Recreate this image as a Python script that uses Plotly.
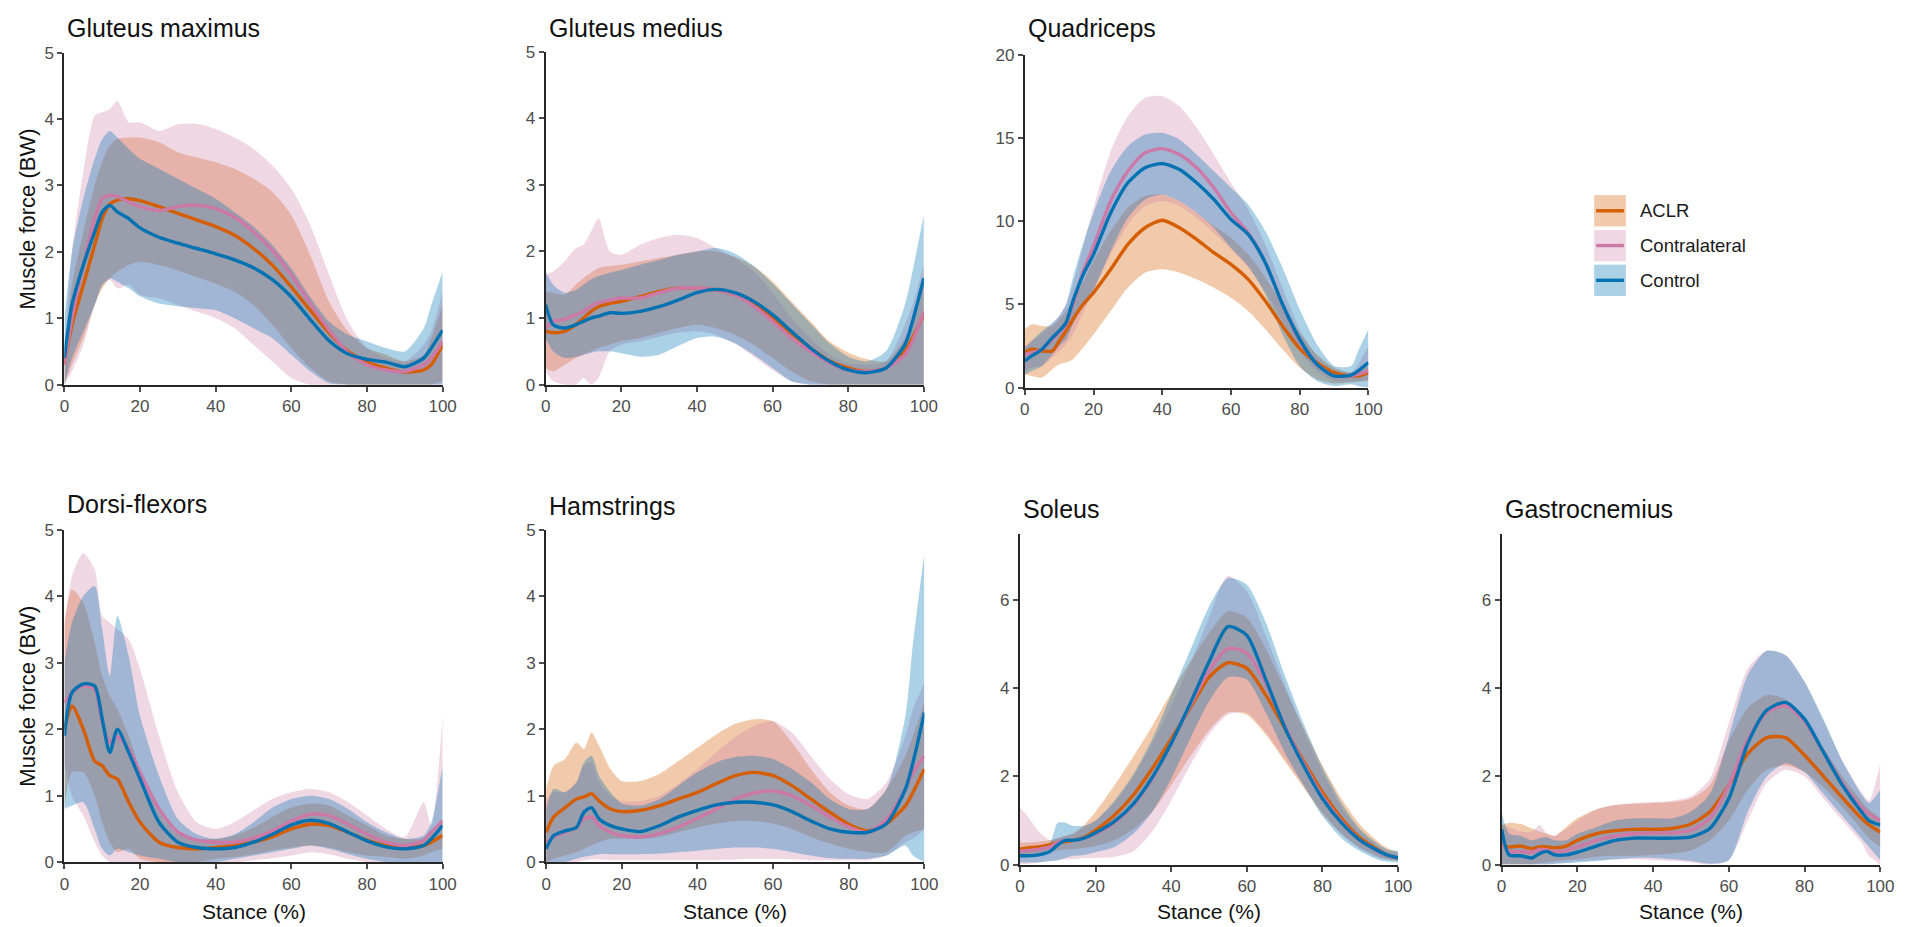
import plotly.graph_objects as go

# Stance phase sample points (%)
X = [0, 2, 5, 8, 10, 12, 14, 17, 20, 25, 30, 35, 40, 45, 50, 55, 60, 65, 70, 75, 80, 85, 90, 95, 97, 100]

GROUPS = ["ACLR", "Contralateral", "Control"]

# ---------------- Gluteus maximus ----------------
GMAX_ACLR = [0.3, 0.9, 1.5, 2.1, 2.5, 2.72, 2.78, 2.8, 2.77, 2.68, 2.58, 2.48, 2.38, 2.25, 2.05, 1.8, 1.47, 1.12, 0.78, 0.5, 0.34, 0.25, 0.19, 0.22, 0.3, 0.6]
GMAX_ACLR_LO = [0.0, 0.3, 0.7, 1.2, 1.45, 1.6, 1.7, 1.8, 1.85, 1.8, 1.72, 1.62, 1.52, 1.4, 1.2, 0.9, 0.55, 0.25, 0.05, 0, 0, 0, 0, 0, 0, 0.05]
GMAX_ACLR_HI = [0.5, 1.5, 2.3, 3.0, 3.35, 3.6, 3.7, 3.72, 3.72, 3.65, 3.5, 3.42, 3.35, 3.25, 3.1, 2.9, 2.55, 1.95, 1.25, 0.8, 0.55, 0.45, 0.35, 0.45, 0.7, 1.2]
GMAX_CONTRA = [0.3, 1.0, 1.8, 2.5, 2.8, 2.85, 2.83, 2.75, 2.68, 2.62, 2.68, 2.7, 2.65, 2.52, 2.3, 2.02, 1.65, 1.22, 0.82, 0.48, 0.3, 0.22, 0.2, 0.3, 0.4, 0.65]
GMAX_CONTRA_LO = [0, 0.2, 0.6, 1.2, 1.5, 1.58, 1.45, 1.5, 1.35, 1.3, 1.2, 1.1, 1.0, 0.85, 0.6, 0.35, 0.1, 0, 0, 0, 0, 0, 0, 0, 0, 0]
GMAX_CONTRA_HI = [0.5, 2.0, 3.2, 4.05, 4.1, 4.15, 4.27, 3.95, 3.95, 3.82, 3.92, 3.93, 3.85, 3.72, 3.55, 3.3, 2.95, 2.4, 1.65, 0.95, 0.55, 0.4, 0.35, 0.6, 0.8, 1.4]
GMAX_CTRL = [0.4, 1.2, 1.8, 2.3, 2.6, 2.7, 2.6, 2.5, 2.36, 2.22, 2.13, 2.05, 1.97, 1.88, 1.76, 1.58, 1.32, 0.98, 0.66, 0.46, 0.38, 0.34, 0.27, 0.4, 0.55, 0.82]
GMAX_CTRL_LO = [0, 0.4, 0.8, 1.2, 1.5, 1.6, 1.55, 1.45, 1.33, 1.22, 1.18, 1.15, 1.12, 1.0, 0.85, 0.7, 0.45, 0.2, 0.02, 0, 0, 0, 0, 0, 0, 0]
GMAX_CTRL_HI = [1.0, 2.0, 2.8, 3.4, 3.7, 3.82, 3.72, 3.55, 3.4, 3.25, 3.1, 2.95, 2.8, 2.6, 2.38, 2.1, 1.75, 1.32, 0.95, 0.75, 0.65, 0.55, 0.5, 0.85, 1.2, 1.7]

# ---------------- Gluteus medius ----------------
GMED_ACLR = [0.8, 0.78, 0.8, 0.9, 1.0, 1.1, 1.17, 1.22, 1.25, 1.32, 1.4, 1.45, 1.45, 1.42, 1.35, 1.2, 1.0, 0.77, 0.55, 0.36, 0.25, 0.2, 0.25, 0.5, 0.7, 1.05]
GMED_ACLR_LO = [0.25, 0.2, 0.3, 0.4, 0.45, 0.5, 0.55, 0.6, 0.65, 0.7, 0.78, 0.85, 0.9, 0.85, 0.75, 0.6, 0.4, 0.2, 0.05, 0, 0, 0, 0, 0, 0, 0]
GMED_ACLR_HI = [1.4, 1.38, 1.35, 1.5, 1.6, 1.68, 1.75, 1.78, 1.8, 1.85, 1.9, 1.95, 2.0, 2.0, 1.92, 1.78, 1.55, 1.25, 0.95, 0.65, 0.48, 0.38, 0.35, 0.7, 1.0, 1.6]
GMED_CONTRA = [0.85, 0.95, 0.98, 1.05, 1.1, 1.18, 1.23, 1.27, 1.3, 1.3, 1.38, 1.45, 1.45, 1.42, 1.35, 1.18, 0.95, 0.7, 0.5, 0.33, 0.22, 0.2, 0.25, 0.45, 0.65, 1.1]
GMED_CONTRA_LO = [0.2, 0.05, 0, 0, 0.1, 0, 0.1, 0.5, 0.6, 0.65, 0.72, 0.78, 0.8, 0.75, 0.62, 0.42, 0.22, 0.05, 0, 0, 0, 0, 0, 0, 0, 0]
GMED_CONTRA_HI = [1.65, 1.7, 1.85, 2.05, 2.1, 2.3, 2.5, 2.0, 1.95, 2.1, 2.2, 2.25, 2.2, 2.05, 1.9, 1.7, 1.38, 1.0, 0.7, 0.45, 0.32, 0.3, 0.35, 0.9, 1.2, 1.8]
GMED_CTRL = [1.2, 0.9, 0.85, 0.9, 0.95, 1.0, 1.03, 1.08, 1.07, 1.1, 1.17, 1.27, 1.38, 1.43, 1.38, 1.25, 1.05, 0.8, 0.55, 0.35, 0.22, 0.18, 0.25, 0.6, 0.95, 1.6]
GMED_CTRL_LO = [0.7, 0.5, 0.4, 0.42, 0.45, 0.48, 0.5, 0.5, 0.47, 0.42, 0.45, 0.58, 0.7, 0.72, 0.62, 0.45, 0.25, 0.05, 0, 0, 0, 0, 0, 0, 0, 0]
GMED_CTRL_HI = [1.7, 1.5, 1.38, 1.42, 1.5, 1.58, 1.63, 1.68, 1.72, 1.8, 1.87, 1.95, 2.0, 2.05, 1.97, 1.78, 1.52, 1.22, 0.92, 0.62, 0.42, 0.35, 0.5, 1.2, 1.7, 2.55]

# ---------------- Quadriceps ----------------
QUAD_ACLR = [2.1, 2.3, 2.2, 2.2, 2.8, 3.4, 4.1, 5.0, 5.7, 7.1, 8.6, 9.6, 10.05, 9.6, 8.9, 8.1, 7.4, 6.5, 5.2, 3.7, 2.35, 1.5, 0.9, 0.7, 0.7, 0.9]
QUAD_ACLR_LO = [0.8, 0.7, 0.6, 1.1, 1.4, 1.5, 1.7, 2.4, 3.2, 4.6, 6.0, 6.9, 7.1, 6.9, 6.5, 6.0, 5.4, 4.6, 3.5, 2.3, 1.2, 0.5, 0.25, 0.3, 0.35, 0.4]
QUAD_ACLR_HI = [3.5, 3.8, 3.7, 3.7, 4.1, 4.6, 5.2, 6.4, 7.6, 9.4, 10.8, 11.5, 11.6, 11.2, 10.5, 9.7, 9.0, 8.0, 6.6, 5.0, 3.3, 2.0, 1.2, 0.9, 1.0, 1.3]
QUAD_CONTRA = [2.0, 2.1, 2.3, 2.9, 3.3, 3.8, 5.0, 7.0, 8.5, 11.2, 13.0, 14.1, 14.35, 14.0, 13.2, 12.0, 10.5, 9.3, 7.5, 5.0, 2.8, 1.4, 0.7, 0.7, 0.8, 1.0]
QUAD_CONTRA_LO = [1.0, 1.2, 1.3, 1.8, 2.2, 2.6, 3.2, 4.5, 5.8, 8.0, 9.8, 10.9, 11.2, 10.9, 10.2, 9.3, 8.3, 7.2, 5.8, 4.0, 2.2, 1.0, 0.4, 0.4, 0.4, 0.5]
QUAD_CONTRA_HI = [2.5, 2.8, 3.2, 3.8, 4.3, 5.0, 6.2, 8.5, 10.8, 14.2, 16.3, 17.4, 17.5, 16.9, 15.6, 14.0, 12.3, 10.7, 8.6, 6.0, 3.5, 1.9, 1.1, 0.9, 1.4, 2.5]
QUAD_CTRL = [1.6, 1.9, 2.3, 3.0, 3.4, 3.9, 5.2, 6.8, 8.0, 10.5, 12.3, 13.2, 13.45, 13.1, 12.3, 11.3, 10.1, 9.2, 7.5, 5.0, 2.9, 1.4, 0.7, 0.75, 1.0, 1.5]
QUAD_CTRL_LO = [0.8, 1.0, 1.3, 2.0, 2.5, 2.9, 3.8, 5.0, 5.9, 8.2, 10.2, 11.3, 11.6, 11.2, 10.5, 9.6, 8.4, 7.3, 5.6, 3.2, 1.3, 0.4, 0.1, 0.2, 0.1, 0]
QUAD_CTRL_HI = [2.4, 2.8, 3.4, 3.9, 4.3, 5.0, 6.6, 8.7, 10.5, 13.0, 14.5, 15.2, 15.3, 14.9, 14.0, 13.0, 12.0, 11.0, 9.4, 7.2, 4.7, 2.6, 1.3, 1.3, 2.2, 3.5]

# ---------------- Dorsi-flexors ----------------
DORS_ACLR = [2.0, 2.35, 2.0, 1.52, 1.45, 1.3, 1.25, 0.9, 0.6, 0.3, 0.22, 0.2, 0.22, 0.25, 0.3, 0.38, 0.5, 0.57, 0.55, 0.45, 0.33, 0.25, 0.22, 0.25, 0.3, 0.4]
DORS_ACLR_LO = [0.8, 1.35, 1.35, 1.0, 0.6, 0.3, 0.15, 0.2, 0.05, 0, 0, 0, 0.05, 0.08, 0.12, 0.18, 0.22, 0.25, 0.22, 0.15, 0.1, 0.08, 0.05, 0.1, 0.15, 0.2]
DORS_ACLR_HI = [3.6, 4.1, 3.9, 3.3, 2.8, 2.5, 2.3, 1.9, 1.4, 0.75, 0.42, 0.35, 0.35, 0.4, 0.52, 0.68, 0.82, 0.88, 0.85, 0.7, 0.55, 0.4, 0.35, 0.35, 0.45, 0.6]
DORS_CONTRA = [2.4, 2.55, 2.65, 2.6, 2.1, 1.8, 1.88, 1.7, 1.35, 0.8, 0.45, 0.33, 0.3, 0.3, 0.36, 0.47, 0.62, 0.72, 0.7, 0.57, 0.42, 0.3, 0.25, 0.33, 0.45, 0.62]
DORS_CONTRA_LO = [1.5, 1.0, 0.7, 0.3, 0.1, 0, 0, 0, 0, 0, 0, 0, 0, 0, 0.03, 0.06, 0.1, 0.15, 0.12, 0.05, 0, 0, 0, 0, 0, 0]
DORS_CONTRA_HI = [3.5, 4.3, 4.65, 4.4, 3.7, 3.6, 3.5, 3.35, 2.9, 1.9, 1.05, 0.6, 0.5, 0.6, 0.78, 0.95, 1.05, 1.1, 1.05, 0.9, 0.7, 0.5, 0.38, 0.9, 0.55, 2.2]
DORS_CTRL = [1.9, 2.55, 2.68, 2.65, 2.15, 1.65, 2.0, 1.65, 1.25, 0.6, 0.3, 0.22, 0.2, 0.22, 0.3, 0.42, 0.56, 0.63, 0.58, 0.45, 0.32, 0.23, 0.2, 0.25, 0.35, 0.55]
DORS_CTRL_LO = [0.8, 0.85, 0.9, 0.5, 0.2, 0.1, 0.2, 0.15, 0.1, 0.05, 0, 0, 0, 0.05, 0.1, 0.15, 0.2, 0.25, 0.2, 0.12, 0.05, 0, 0, 0, 0, 0]
DORS_CTRL_HI = [3.0, 3.6, 4.0, 4.15, 3.5, 2.8, 3.7, 3.1, 2.2, 1.3, 0.65, 0.42, 0.35, 0.42, 0.6, 0.82, 0.95, 1.0, 0.95, 0.8, 0.6, 0.45, 0.35, 0.4, 0.6, 1.45]

# ---------------- Hamstrings ----------------
HAMS_ACLR = [0.45, 0.68, 0.82, 0.95, 0.98, 1.03, 0.92, 0.8, 0.76, 0.78, 0.85, 0.95, 1.05, 1.18, 1.3, 1.35, 1.3, 1.15, 0.95, 0.75, 0.57, 0.47, 0.58, 0.85, 1.05, 1.4]
HAMS_ACLR_LO = [0, 0.05, 0.1, 0.15, 0.2, 0.25, 0.3, 0.35, 0.35, 0.35, 0.38, 0.45, 0.52, 0.58, 0.62, 0.62, 0.58, 0.5, 0.38, 0.28, 0.2, 0.15, 0.15, 0.4, 0.45, 0.5]
HAMS_ACLR_HI = [1.1, 1.45, 1.55, 1.8, 1.7, 1.95, 1.75, 1.4, 1.22, 1.22, 1.33, 1.52, 1.72, 1.92, 2.08, 2.15, 2.12, 1.8, 1.4, 1.05, 0.85, 0.8, 1.1, 1.6, 1.9, 2.4]
HAMS_CONTRA = [0.3, 0.38, 0.45, 0.52, 0.65, 0.68, 0.55, 0.45, 0.4, 0.38, 0.43, 0.53, 0.66, 0.8, 0.95, 1.04, 1.07, 1.0, 0.85, 0.68, 0.53, 0.45, 0.65, 1.1, 1.35, 1.6]
HAMS_CONTRA_LO = [0, 0, 0, 0, 0.03, 0.04, 0.04, 0.03, 0.03, 0.03, 0.03, 0.03, 0.03, 0.03, 0.04, 0.05, 0.05, 0.04, 0.03, 0.03, 0.03, 0.03, 0.1, 0.3, 0.35, 0.5]
HAMS_CONTRA_HI = [0.95, 1.05, 1.05, 1.2, 1.45, 1.5, 1.2, 1.0, 0.92, 0.92, 1.0, 1.18, 1.4, 1.65, 1.88, 2.05, 2.12, 1.95, 1.6, 1.25, 1.02, 0.95, 1.2, 1.9, 2.3, 2.7]
HAMS_CTRL = [0.2, 0.4, 0.47, 0.52, 0.75, 0.82, 0.65, 0.55, 0.5, 0.46, 0.55, 0.68, 0.78, 0.86, 0.9, 0.9, 0.86, 0.76, 0.62, 0.5, 0.45, 0.45, 0.58, 1.1, 1.5, 2.25]
HAMS_CTRL_LO = [0, 0, 0, 0.05, 0.08, 0.1, 0.12, 0.12, 0.12, 0.12, 0.13, 0.15, 0.17, 0.2, 0.22, 0.22, 0.2, 0.15, 0.1, 0.06, 0.05, 0.05, 0.1, 0.25, 0.1, 0]
HAMS_CTRL_HI = [0.8, 1.1, 1.05, 1.2, 1.5, 1.6, 1.3, 1.05, 0.88, 0.85, 0.95, 1.15, 1.35, 1.5, 1.58, 1.6, 1.55, 1.4, 1.2, 0.95, 0.8, 0.8, 1.1, 2.2, 3.3, 4.65]

# ---------------- Soleus ----------------
SOL_ACLR = [0.35, 0.38, 0.4, 0.45, 0.5, 0.52, 0.55, 0.62, 0.78, 1.12, 1.58, 2.18, 2.85, 3.55, 4.25, 4.58, 4.45, 3.85, 3.1, 2.35, 1.64, 1.05, 0.6, 0.32, 0.22, 0.15]
SOL_ACLR_LO = [0.2, 0.22, 0.25, 0.3, 0.32, 0.35, 0.35, 0.38, 0.42, 0.55, 0.8, 1.2, 1.8, 2.45, 3.05, 3.45, 3.4, 2.95, 2.35, 1.75, 1.15, 0.7, 0.38, 0.18, 0.12, 0.08]
SOL_ACLR_HI = [0.5, 0.5, 0.52, 0.55, 0.6, 0.65, 0.7, 0.9, 1.2, 1.8, 2.45, 3.15, 3.9, 4.6, 5.25, 5.75, 5.6, 4.9, 4.0, 3.1, 2.25, 1.5, 0.9, 0.5, 0.38, 0.28]
SOL_CONTRA = [0.3, 0.32, 0.35, 0.4, 0.5, 0.55, 0.55, 0.6, 0.7, 0.95, 1.35, 1.95, 2.75, 3.6, 4.4, 4.9, 4.8, 4.1, 3.15, 2.3, 1.55, 0.98, 0.55, 0.3, 0.22, 0.15]
SOL_CONTRA_LO = [0, 0.02, 0.05, 0.08, 0.1, 0.12, 0.12, 0.15, 0.15, 0.17, 0.3, 0.75, 1.45, 2.25, 2.95, 3.4, 3.45, 3.0, 2.4, 1.8, 1.2, 0.7, 0.35, 0.15, 0.12, 0.1]
SOL_CONTRA_HI = [1.3, 1.1, 0.75, 0.55, 0.6, 0.65, 0.7, 0.85, 1.0, 1.4, 2.0, 2.75, 3.6, 4.55, 5.6, 6.55, 6.2, 5.2, 4.1, 3.05, 2.1, 1.3, 0.75, 0.4, 0.3, 0.25]
SOL_CTRL = [0.2, 0.2, 0.22, 0.3, 0.45, 0.55, 0.55, 0.6, 0.72, 0.98, 1.38, 1.98, 2.75, 3.65, 4.6, 5.4, 5.2, 4.2, 3.12, 2.25, 1.5, 0.95, 0.55, 0.3, 0.22, 0.15]
SOL_CTRL_LO = [0.05, 0.05, 0.05, 0.08, 0.1, 0.15, 0.2, 0.22, 0.28, 0.4, 0.7, 1.2, 1.95, 2.85, 3.7, 4.25, 4.2, 3.45, 2.55, 1.8, 1.1, 0.6, 0.3, 0.1, 0.07, 0.05]
SOL_CTRL_HI = [0.3, 0.3, 0.32, 0.5, 0.95, 0.95, 0.88, 0.88, 1.0, 1.45, 2.05, 2.85, 3.85, 4.85, 5.85, 6.5, 6.35, 5.5, 4.3, 3.2, 2.2, 1.4, 0.8, 0.45, 0.35, 0.3]

# ---------------- Gastrocnemius ----------------
GAS_ACLR = [0.45, 0.4, 0.42, 0.36, 0.4, 0.4, 0.38, 0.42, 0.55, 0.7, 0.77, 0.8, 0.8, 0.82, 0.92, 1.2, 1.8, 2.52, 2.88, 2.88, 2.48, 2.0, 1.52, 1.05, 0.9, 0.74]
GAS_ACLR_LO = [0, 0, 0, 0, 0.03, 0.05, 0.08, 0.1, 0.12, 0.18, 0.2, 0.2, 0.22, 0.25, 0.32, 0.55, 1.0, 1.7, 2.15, 2.25, 2.1, 1.75, 1.3, 0.8, 0.6, 0.4]
GAS_ACLR_HI = [0.9, 0.95, 0.92, 0.82, 0.75, 0.7, 0.65, 0.85, 1.05, 1.25, 1.35, 1.38, 1.4, 1.42, 1.5, 1.8, 2.8, 3.55, 3.85, 3.75, 3.3, 2.65, 2.0, 1.45, 1.25, 1.05]
GAS_CONTRA = [0.5, 0.3, 0.3, 0.28, 0.35, 0.33, 0.3, 0.32, 0.4, 0.55, 0.65, 0.7, 0.72, 0.72, 0.78, 1.05, 1.8, 2.85, 3.45, 3.6, 3.25, 2.55, 1.85, 1.3, 1.15, 1.0]
GAS_CONTRA_LO = [0, 0, 0, 0, 0, 0, 0.02, 0.05, 0.08, 0.1, 0.12, 0.12, 0.1, 0.08, 0.05, 0, 0.1, 1.0, 1.85, 2.15, 2.0, 1.5, 1.0, 0.5, 0.2, 0]
GAS_CONTRA_HI = [0.9, 0.85, 0.75, 0.75, 0.9, 0.7, 0.65, 0.8, 1.0, 1.25, 1.35, 1.4, 1.42, 1.45, 1.55, 1.95, 3.2, 4.45, 4.85, 4.75, 4.15, 3.25, 2.35, 1.65, 1.45, 2.3]
GAS_CTRL = [0.8, 0.22, 0.2, 0.15, 0.25, 0.3, 0.22, 0.22, 0.28, 0.42, 0.55, 0.6, 0.6, 0.6, 0.63, 0.82, 1.5, 2.75, 3.5, 3.68, 3.3, 2.55, 1.8, 1.2, 1.0, 0.9]
GAS_CTRL_LO = [0, 0, 0, 0, 0, 0, 0.02, 0.03, 0.05, 0.08, 0.12, 0.15, 0.15, 0.12, 0.08, 0.02, 0.1, 1.2, 2.0, 2.3, 2.1, 1.6, 1.1, 0.6, 0.4, 0.1]
GAS_CTRL_HI = [1.2, 0.7, 0.65, 0.55, 0.6, 0.62, 0.55, 0.55, 0.7, 0.85, 1.0, 1.05, 1.05, 1.05, 1.2, 1.6, 2.9, 4.3, 4.85, 4.75, 4.15, 3.3, 2.35, 1.6, 1.4, 1.7]

# ---------------- styling ----------------
W, H = 1927, 927
FONT = "Liberation Sans, Arial, Helvetica, sans-serif"
LINE_COLORS = {"ACLR": "#D55E00", "Contralateral": "#CC79A7", "Control": "#0072B2"}
FILL_COLORS = {
    "ACLR": "rgba(213,94,0,0.33)",
    "Contralateral": "rgba(204,121,167,0.30)",
    "Control": "rgba(0,114,178,0.33)",
}

# panel: title, series, y range, y ticks, pixel box (left, right, top, bottom),
#        y-axis title shown, x-axis title shown, title centre row
PANELS = [
    ("Gluteus maximus",
     [(GMAX_ACLR, GMAX_ACLR_LO, GMAX_ACLR_HI), (GMAX_CONTRA, GMAX_CONTRA_LO, GMAX_CONTRA_HI), (GMAX_CTRL, GMAX_CTRL_LO, GMAX_CTRL_HI)],
     [0, 5], [0, 1, 2, 3, 4, 5], (60, 442, 44.5, 383.5), True, False, 19),
    ("Gluteus medius",
     [(GMED_ACLR, GMED_ACLR_LO, GMED_ACLR_HI), (GMED_CONTRA, GMED_CONTRA_LO, GMED_CONTRA_HI), (GMED_CTRL, GMED_CTRL_LO, GMED_CTRL_HI)],
     [0, 5], [0, 1, 2, 3, 4, 5], (546, 928, 43.5, 383.5), False, False, 19),
    ("Quadriceps",
     [(QUAD_ACLR, QUAD_ACLR_LO, QUAD_ACLR_HI), (QUAD_CONTRA, QUAD_CONTRA_LO, QUAD_CONTRA_HI), (QUAD_CTRL, QUAD_CTRL_LO, QUAD_CTRL_HI)],
     [0, 20], [0, 5, 10, 15, 20], (1030, 1377, 46.5, 386.5), False, False, 19),
    ("Dorsi-flexors",
     [(DORS_ACLR, DORS_ACLR_LO, DORS_ACLR_HI), (DORS_CONTRA, DORS_CONTRA_LO, DORS_CONTRA_HI), (DORS_CTRL, DORS_CTRL_LO, DORS_CTRL_HI)],
     [0, 5], [0, 1, 2, 3, 4, 5], (60, 442, 531.5, 871), True, True, 505),
    ("Hamstrings",
     [(HAMS_ACLR, HAMS_ACLR_LO, HAMS_ACLR_HI), (HAMS_CONTRA, HAMS_CONTRA_LO, HAMS_CONTRA_HI), (HAMS_CTRL, HAMS_CTRL_LO, HAMS_CTRL_HI)],
     [0, 5], [0, 1, 2, 3, 4, 5], (546.5, 928.5, 531.5, 871), False, True, 507),
    ("Soleus",
     [(SOL_ACLR, SOL_ACLR_LO, SOL_ACLR_HI), (SOL_CONTRA, SOL_CONTRA_LO, SOL_CONTRA_HI), (SOL_CTRL, SOL_CTRL_LO, SOL_CTRL_HI)],
     [0, 7.5], [0, 2, 4, 6], (1025, 1407, 536, 873.5), False, True, 510),
    ("Gastrocnemius",
     [(GAS_ACLR, GAS_ACLR_LO, GAS_ACLR_HI), (GAS_CONTRA, GAS_CONTRA_LO, GAS_CONTRA_HI), (GAS_CTRL, GAS_CTRL_LO, GAS_CTRL_HI)],
     [0, 7.5], [0, 2, 4, 6], (1511.5, 1894, 536, 873.5), False, True, 510),
]


def px_x(px):
    return px / W


def px_y(py):
    return 1 - py / H


fig = go.Figure()
annotations = []
layout_axes = {}

for i, (title, series, yrange, yticks, box, show_ytitle, show_xtitle, title_y) in enumerate(PANELS, start=1):
    left, right, top, bottom = box
    xa = "x" if i == 1 else f"x{i}"
    ya = "y" if i == 1 else f"y{i}"
    xkey = "xaxis" if i == 1 else f"xaxis{i}"
    ykey = "yaxis" if i == 1 else f"yaxis{i}"

    axis_common = dict(
        showgrid=False, zeroline=False, showline=True, linecolor="#262626", linewidth=2,
        ticks="outside", ticklen=5, tickwidth=1.5, tickcolor="#4d4d4d",
        tickfont=dict(family=FONT, size=17, color="#4d4d4d"), fixedrange=True,
    )
    layout_axes[xkey] = dict(axis_common, domain=[px_x(left), px_x(right)], range=[0, 100],
                             tickvals=[0, 20, 40, 60, 80, 100], anchor=ya)
    layout_axes[ykey] = dict(axis_common, domain=[px_y(bottom), px_y(top)], range=yrange,
                             tickvals=yticks, anchor=xa)

    # shaded variability bands
    for g, (mean, lo, hi) in zip(GROUPS, series):
        fig.add_trace(go.Scatter(x=X, y=lo, xaxis=xa, yaxis=ya, mode="lines",
                                 line=dict(width=0, shape="spline", smoothing=0.7),
                                 showlegend=False, hoverinfo="skip"))
        fig.add_trace(go.Scatter(x=X, y=hi, xaxis=xa, yaxis=ya, mode="lines",
                                 line=dict(width=0, shape="spline", smoothing=0.7),
                                 fill="tonexty", fillcolor=FILL_COLORS[g],
                                 showlegend=False, hoverinfo="skip"))
    # group mean curves
    for g, (mean, lo, hi) in zip(GROUPS, series):
        fig.add_trace(go.Scatter(x=X, y=mean, xaxis=xa, yaxis=ya, mode="lines", name=g,
                                 line=dict(color=LINE_COLORS[g], width=3.4, shape="spline", smoothing=0.7),
                                 showlegend=False))

    annotations.append(dict(text=title, xref="paper", yref="paper", x=px_x(left + 1), y=px_y(title_y),
                            xanchor="left", yanchor="middle", showarrow=False,
                            font=dict(family=FONT, size=25, color="#111111")))
    if show_ytitle:
        annotations.append(dict(text="Muscle force (BW)", xref="paper", yref="paper",
                                x=px_x(23), y=px_y((top + bottom) / 2), textangle=-90,
                                xanchor="center", yanchor="middle", showarrow=False,
                                font=dict(family=FONT, size=22, color="#111111")))
    if show_xtitle:
        annotations.append(dict(text="Stance (%)", xref="paper", yref="paper",
                                x=px_x((left + right) / 2), y=px_y(921), borderpad=0,
                                xanchor="center", yanchor="middle", showarrow=False,
                                font=dict(family=FONT, size=21, color="#111111")))

# legend drawn as swatches with a line across each
shapes = []
legend_tops = [190, 225.5, 261]
for g, t in zip(GROUPS, legend_tops):
    shapes.append(dict(type="rect", xref="paper", yref="paper",
                       x0=px_x(1605), x1=px_x(1637), y0=px_y(t + 32), y1=px_y(t),
                       fillcolor=FILL_COLORS[g], line=dict(width=0)))
    shapes.append(dict(type="line", xref="paper", yref="paper",
                       x0=px_x(1607), x1=px_x(1635), y0=px_y(t + 16), y1=px_y(t + 16),
                       line=dict(color=LINE_COLORS[g], width=3.4)))
    annotations.append(dict(text=g, xref="paper", yref="paper", x=px_x(1649), y=px_y(t + 16),
                            xanchor="left", yanchor="middle", showarrow=False,
                            font=dict(family=FONT, size=18.5, color="#1a1a1a")))

fig.update_layout(
    width=W, height=H, margin=dict(l=0, r=0, t=0, b=0),
    paper_bgcolor="white", plot_bgcolor="white",
    showlegend=False, annotations=annotations, shapes=shapes,
    **layout_axes,
)

fig.write_html("out.html")
